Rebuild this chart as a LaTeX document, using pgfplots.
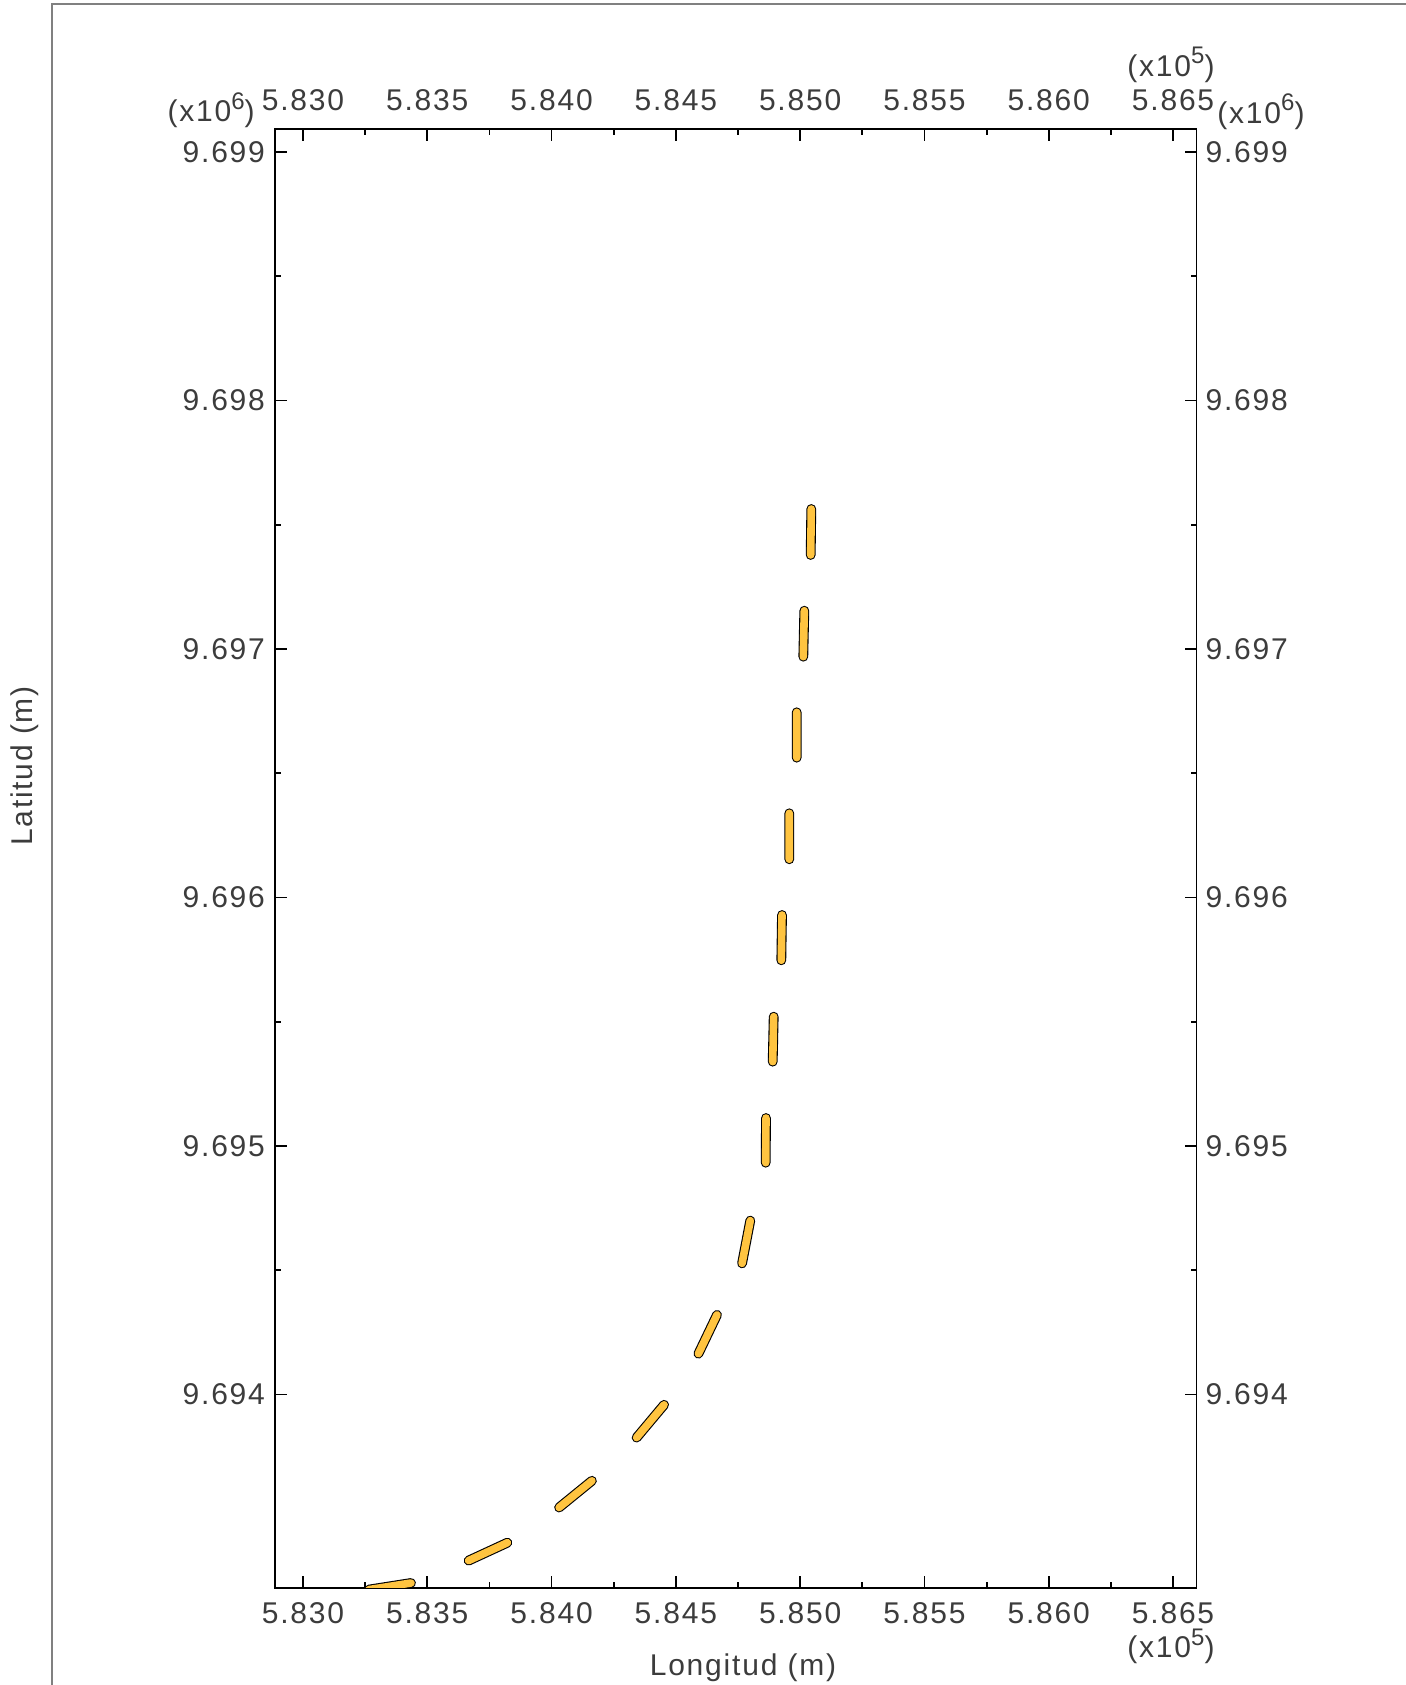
\documentclass[border=0pt]{standalone}
\usepackage{pgfplots}
\pgfplotsset{compat=1.18}
\usepackage{pgfplotstable}
\usepackage{fontspec}
\setmainfont{Liberation Sans}[LetterSpace=6]
\definecolor{dashy}{RGB}{255,196,64}
\definecolor{txt}{RGB}{60,60,60}

\pgfplotstableread{
x y
583265.5 9693215.0
583434.5 9693241.5
nan nan
583666.2 9693331.7
583822.2 9693403.7
nan nan
584030.2 9693545.3
584162.2 9693652.8
nan nan
584342.0 9693826.6
584452.6 9693958.6
nan nan
584590.6 9694164.2
584665.4 9694320.4
nan nan
584766.2 9694527.6
584799.2 9694699.8
nan nan
584861.3 9694932.8
584862.5 9695112.7
nan nan
584889.5 9695339.3
584893.5 9695520.4
nan nan
584924.1 9695747.3
584926.9 9695929.6
nan nan
584956.2 9696153.8
584956.2 9696338.9
nan nan
584986.0 9696562.6
584986.0 9696745.3
nan nan
585012.6 9696969.0
585016.6 9697154.1
nan nan
585042.3 9697378.3
585044.7 9697563.4
}\dashdata

\newcommand{\fs}{\fontsize{15}{18}\selectfont}
\newcommand{\sx}[1]{\raisebox{0.42em}{\fontsize{12}{14}\selectfont #1}}

\begin{document}
\begin{tikzpicture}
\useasboundingbox (0,0) rectangle (703pt,842.5pt);
\draw[gray, line width=1pt] (25.85pt,0) -- (25.85pt,840.5pt) -- (703pt,840.5pt);

\pgfplotsset{
  commonax/.style={
    at={(137.5pt,48.5pt)}, anchor=south west,
    scale only axis, width=460.75pt, height=729.5pt,
    xmin=582887.4, xmax=586594.3, ymin=9693221.4, ymax=9699092.6,
    xtick={583000,583500,584000,584500,585000,585500,586000,586500},
    xticklabels={5.830,5.835,5.840,5.845,5.850,5.855,5.860,5.865},
    ytick={9694000,9695000,9696000,9697000,9698000,9699000},
    yticklabels={9.694,9.695,9.696,9.697,9.698,9.699},
    minor x tick num=1, minor y tick num=1,
    scaled ticks=false,
    tick align=inside,
    tick label style={font=\fs, text=txt},
  }
}

\begin{axis}[commonax,
    major tick length=6pt, minor tick length=3pt,
    every tick/.style={black, line width=0.9pt},
    axis line style={black, line width=0.8pt},
    xticklabel style={yshift=-3.5pt},
    yticklabel style={xshift=-1.5pt},
    unbounded coords=jump,
  ]
  \addplot[black, line width=4.9pt, line cap=round] table[x=x,y=y] {\dashdata};
  \addplot[dashy, line width=3.8pt, line cap=round] table[x=x,y=y] {\dashdata};
\end{axis}

\begin{axis}[commonax,
    major tick length=0pt, minor tick length=0pt,
    axis line style={draw=none},
    xticklabel pos=upper, yticklabel pos=upper,
    xticklabel style={yshift=5.5pt},
    yticklabel style={xshift=1pt},
  ]
\end{axis}

\node[font=\fs, text=txt, anchor=base] at (371.5pt,5pt) {Longitud (m)};
\node[font=\fs, text=txt, anchor=base, rotate=90] at (16.5pt,459.5pt) {Latitud (m)};
\node[font=\fs, text=txt, anchor=base east, inner sep=0pt] at (127.5pt,781.5pt) {(x10\sx{6})};
\node[font=\fs, text=txt, anchor=base west, inner sep=0pt] at (608.5pt,780.8pt) {(x10\sx{6})};
\node[font=\fs, text=txt, anchor=base west, inner sep=0pt] at (563.5pt,804.2pt) {(x10\sx{5})};
\node[font=\fs, text=txt, anchor=base west, inner sep=0pt] at (563.5pt,13.5pt) {(x10\sx{5})};
\end{tikzpicture}
\end{document}
